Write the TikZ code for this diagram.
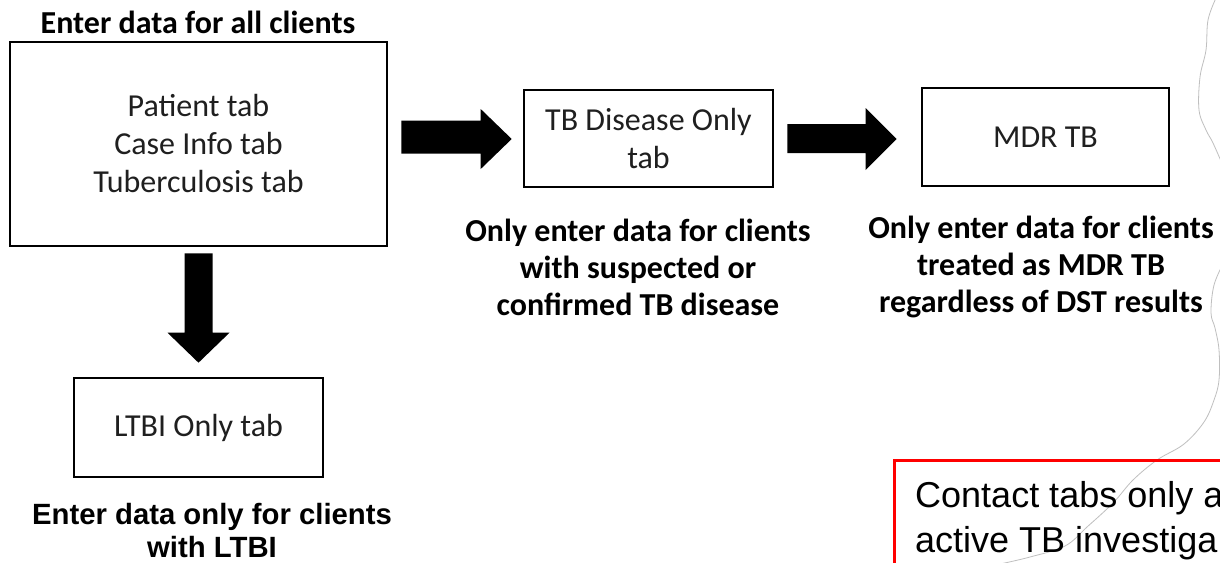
\documentclass[tikz,border=0pt]{standalone}
\usepackage{fontspec}
\setmainfont{Carlito}
\newfontfamily\arialfont{Liberation Sans}
\usetikzlibrary{calc}
\tikzset{
  tabbox/.style={draw=black, line width=2.6pt, fill=white, align=center, inner sep=0pt,
    font=\fontsize{32}{38}\selectfont, text=black!88},
  capt/.style={align=center, inner sep=0pt, font=\bfseries\fontsize{32}{37}\selectfont},
  tornedge/.style={draw=black!25, line width=0.8pt},
}
% horizontal block arrow: #1 start, #2 tip, #3 half shaft, #4 head length, #5 half head
\newcommand\blockarrowH[5]{%
  \fill[black] let \p1=(#1), \p2=(#2) in
    (\x1,\y1+#3) -- (\x2-#4,\y1+#3) -- (\x2-#4,\y2+#5) -- (\x2,\y2)
    -- (\x2-#4,\y2-#5) -- (\x2-#4,\y1-#3) -- (\x1,\y1-#3) -- cycle;}
% vertical (downward) block arrow
\newcommand\blockarrowV[5]{%
  \fill[black] let \p1=(#1), \p2=(#2) in
    (\x1-#3,\y1) -- (\x1-#3,\y2+#4) -- (\x2-#5,\y2+#4) -- (\x2,\y2)
    -- (\x2+#5,\y2+#4) -- (\x1+#3,\y2+#4) -- (\x1+#3,\y1) -- cycle;}
\begin{document}
\begin{tikzpicture}[x=1pt, y=-1pt]
\useasboundingbox (0,0) rectangle (1220,562);
\begin{scope}
\clip (0,0) rectangle (1220,562);
\fill[white] (0,0) rectangle (1220,562);

% boxes
\node[tabbox, minimum width=377pt, minimum height=204pt] (main) at (198.5,144) {Patient tab\\Case Info tab\\Tuberculosis tab};
\node[tabbox, minimum width=249pt, minimum height=97pt] (tbd) at (648.5,138.5) {TB Disease Only\\tab};
\node[tabbox, minimum width=247pt, minimum height=98pt] (mdr) at (1045.5,137) {MDR TB};
\node[tabbox, minimum width=249pt, minimum height=99pt] (ltbi) at (198.5,427.5) {LTBI Only tab};

% captions
\node[capt] (title) at (198,22) {Enter data for all clients};
\node[capt] (tbcap) at (638,267) {Only enter data for clients\\with suspected or\\confirmed TB disease};
\node[capt] (mdrcap) at (1041,267) {Only enter data for clients\\treated as MDR TB\\regardless of DST results};
\node[align=center, inner sep=0pt, font=\arialfont\bfseries\fontsize{29.3}{33}\selectfont] (ltbicap) at (212,531) {Enter data only for clients\\with LTBI};

% block arrows
\coordinate (a1s) at ([xshift=13pt]main.east |- 0,137);
\coordinate (a1e) at ([xshift=-11pt]tbd.west |- 0,139);
\blockarrowH{a1s}{a1e}{16.5pt}{31pt}{30pt}
\coordinate (a2s) at ([xshift=13pt]tbd.east |- 0,138.5);
\coordinate (a2e) at ([xshift=-24pt]mdr.west |- 0,139);
\blockarrowH{a2s}{a2e}{14.5pt}{31pt}{31pt}
\coordinate (a3s) at ([yshift=-6pt]main.south);
\coordinate (a3e) at ([yshift=14pt]ltbi.north);
\blockarrowV{a3s}{a3e}{14pt}{30pt}{31pt}

% torn page edge
\draw[tornedge] plot[smooth, tension=0.6] coordinates {(1216,-2) (1208,20) (1206,50) (1200,77) (1199,110) (1206,130) (1213,143) (1224,168)};
\draw[tornedge] plot[smooth, tension=0.6] coordinates {(1224,262) (1214,285) (1211,313) (1215,328) (1219,350) (1219,380) (1214,400) (1204,422) (1184,444) (1157,460) (1133,480) (1113,503) (1087,527) (1065,546) (1030,557) (1000,564)};

% note box
\draw[red, line width=3pt] (894,460) rectangle (1260,620);
\node[anchor=base west, align=left, inner sep=0pt, font=\arialfont\fontsize{36}{45}\selectfont] (note) at (915,552) {Contact tabs only a\\active TB investiga};
\end{scope}
\end{tikzpicture}
\end{document}
